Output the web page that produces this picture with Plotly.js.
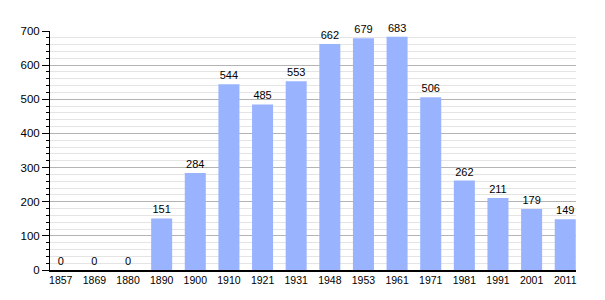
<!DOCTYPE html>
<html><head><meta charset="utf-8">
<script src="https://cdn.plot.ly/plotly-3.0.1.min.js"></script>
<style>body{margin:0;background:#fff}#c{width:605px;height:300px}</style>
</head><body><div id="c"></div>
<script>
const years = ["1857","1869","1880","1890","1900","1910","1921","1931","1948","1953","1961","1971","1981","1991","2001","2011"];
const population = [0,0,0,151,284,544,485,553,662,679,683,506,262,211,179,149];

const lblFont = {family: 'Liberation Sans, Arial, sans-serif', size: 11, color: '#000'};
Plotly.newPlot('c', [{
  type: 'bar',
  x: years,
  y: population,
  marker: {color: '#99b3ff'},
  text: population.map(String),
  textposition: 'outside',
  textfont: lblFont,
  outsidetextfont: lblFont,
  insidetextfont: lblFont,
  cliponaxis: false,
  hoverinfo: 'none'
}], {
  width: 605, height: 300,
  margin: {l: 50, r: 29, t: 31, b: 30},
  paper_bgcolor: '#fff', plot_bgcolor: '#fff',
  bargap: 0.375,
  showlegend: false,
  font: {family: 'Liberation Sans, Arial, sans-serif', size: 11, color: '#000'},
  xaxis: {
    type: 'category',
    range: [-0.32, 15.32],
    showline: true, linecolor: '#000', linewidth: 1.5,
    ticks: '', showgrid: false,
    tickfont: {size: 10.5}
  },
  yaxis: {
    range: [0, 700], dtick: 100,
    showline: true, linecolor: '#000', linewidth: 1,
    ticks: 'outside', ticklen: 7, tickcolor: '#000',
    gridcolor: '#b4b4b4', gridwidth: 1,
    zeroline: false,
    minor: {dtick: 20, showgrid: true, gridcolor: '#e4e4e4', ticks: 'outside', ticklen: 3, tickcolor: '#000'},
    tickfont: {size: 11.5}
  }
}, {staticPlot: true});
</script></body></html>
